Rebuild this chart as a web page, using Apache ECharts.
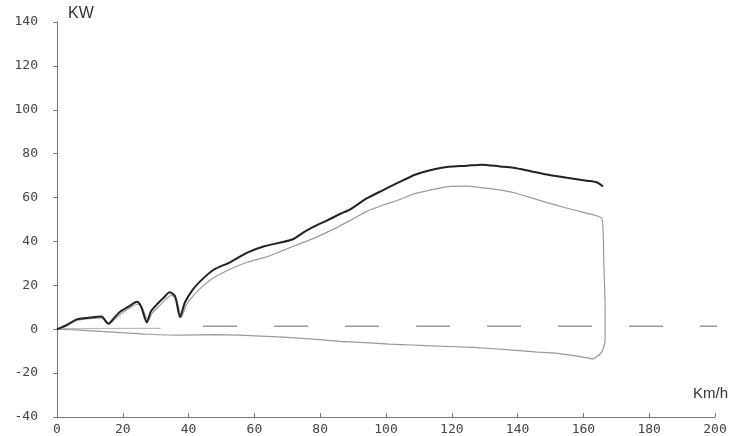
<!DOCTYPE html>
<html>
<head>
<meta charset="utf-8">
<script src="https://cdn.jsdelivr.net/npm/echarts@6/dist/echarts.min.js"></script>
<style>html,body{margin:0;padding:0;background:#fff}#c{width:734px;height:436px}</style>
</head>
<body>
<div id="c"></div>
<script>
var xTicks = [0, 20, 40, 60, 80, 100, 120, 140, 160, 180, 200];
var yTicks = [-40, -20, 0, 20, 40, 60, 80, 100, 120, 140];

// Dark (upper) power curve: [km/h, kW]
var upperCurve = [
  [0,0],[3,2],[6,4.5],[10,5.3],[13.5,5.8],[15.6,2.5],[17,4.5],[19,7.7],[22,10.5],[24.3,12.5],
  [25.5,10.5],[27.3,3.2],[28.5,8],[30.4,11.4],[32.5,14.5],[34.3,16.8],[35.9,15],[37.4,5.5],
  [38.9,12.3],[41,17.5],[43.5,21.8],[47.5,27],[52.6,30.5],[58,35],[63,37.8],[68,39.5],
  [71.7,41],[74.8,44],[77.8,46.5],[82,49.5],[86,52.5],[89,54.5],[94,59.5],[99,63.3],[104,67],
  [109,70.5],[114,72.7],[119,74],[124.6,74.5],[129,75],[134.6,74.2],[138.7,73.6],[144,72],
  [148.9,70.5],[155,69],[161,67.7],[164,67],[166,65]
];

// Grey curve (just below the dark one), then dropping to the lower curve
var greyCurve = [
  [0,0],[3,1.5],[6,4],[10,4.8],[13.5,5.2],[15.9,2.3],[17.5,4.5],[19.5,7],[22.5,10],[24.6,11.5],
  [26,9.5],[27.7,3.8],[29,7.5],[31,10.5],[33,13.5],[34.8,15.5],[36.3,13.5],[37.8,5.5],
  [39.3,11],[40.5,13.6],[43.5,18.5],[47.4,23.2],[52.6,27.3],[57.8,30.5],[63.8,33],[68,35.5],
  [73.9,39],[78,41.4],[83.9,45.5],[89,49.5],[94,53.6],[99,56.5],[104,59],[108,61.4],[114,63.6],
  [119,65],[124.6,65.2],[129,64.5],[134,63.6],[138.7,62.3],[144,60],[148.9,57.7],[154,55.6],
  [159,53.6],[165.6,50.5],[166.2,30],[166.6,10],[166.6,-4.5],[166,-9],[165,-11.4],[163,-13.6]
];

// Lower (negative) curve
var lowerCurve = [
  [0,0],[8,-0.5],[18,-1.4],[28,-2.3],[38,-2.7],[48,-2.5],[58.7,-2.9],[68.7,-3.6],[78,-4.5],
  [86,-5.5],[94,-6.1],[101,-6.8],[108,-7.2],[116,-7.7],[126.4,-8.3],[136.8,-9.3],[146,-10.4],
  [151,-10.8],[158,-12.3],[163,-13.6]
];

// Reference line near zero: short solid part, then dashed
var refSolid = [[0,0.3],[31.5,0.4]];
var refDashed = [[44.4,1.4],[201,1.4]];

var chart = echarts.init(document.getElementById('c'), null, {renderer:'canvas'});
var axisFont = {fontFamily:'DejaVu Sans Mono', fontSize:13, color:'#444'};
chart.setOption({
  animation:false,
  backgroundColor:'#fff',
  grid:{left:57, right:19, top:22, bottom:18, containLabel:false},
  xAxis:{
    type:'value', min:xTicks[0], max:xTicks[xTicks.length-1], interval:20,
    axisLine:{show:true, onZero:false, lineStyle:{color:'#777', width:1}},
    axisTick:{show:true, inside:true, length:4, lineStyle:{color:'#777'}},
    axisLabel:Object.assign({margin:6}, axisFont),
    splitLine:{show:false}
  },
  yAxis:{
    type:'value', min:yTicks[0], max:yTicks[yTicks.length-1], interval:20,
    axisLine:{show:true, onZero:false, lineStyle:{color:'#777', width:1}},
    axisTick:{show:true, inside:false, length:4, lineStyle:{color:'#777'}},
    axisLabel:Object.assign({margin:19}, axisFont),
    splitLine:{show:false}
  },
  graphic:[
    {type:'text', left:68, top:6, style:{text:'KW', font:'16px "Liberation Sans", Arial, sans-serif', fill:'#333'}},
    {type:'text', left:693, top:386, style:{text:'Km/h', font:'15px "Liberation Sans", Arial, sans-serif', fill:'#333'}}
  ],
  series:[
    {type:'line', data:refSolid, symbol:'none', lineStyle:{color:'#bbb', width:1.2}, z:1},
    {type:'line', data:refDashed, symbol:'none', lineStyle:{color:'#999', width:1.5, type:[34,37]}, z:1},
    {type:'line', data:lowerCurve, symbol:'none', smooth:0.2, lineStyle:{color:'#999', width:1.2}, z:2},
    {type:'line', data:greyCurve, symbol:'none', smooth:0.15, lineStyle:{color:'#9a9a9a', width:1.2}, z:3},
    {type:'line', data:upperCurve, symbol:'none', smooth:0.25, lineStyle:{color:'#222', width:2}, z:4}
  ]
});
</script>
</body>
</html>
